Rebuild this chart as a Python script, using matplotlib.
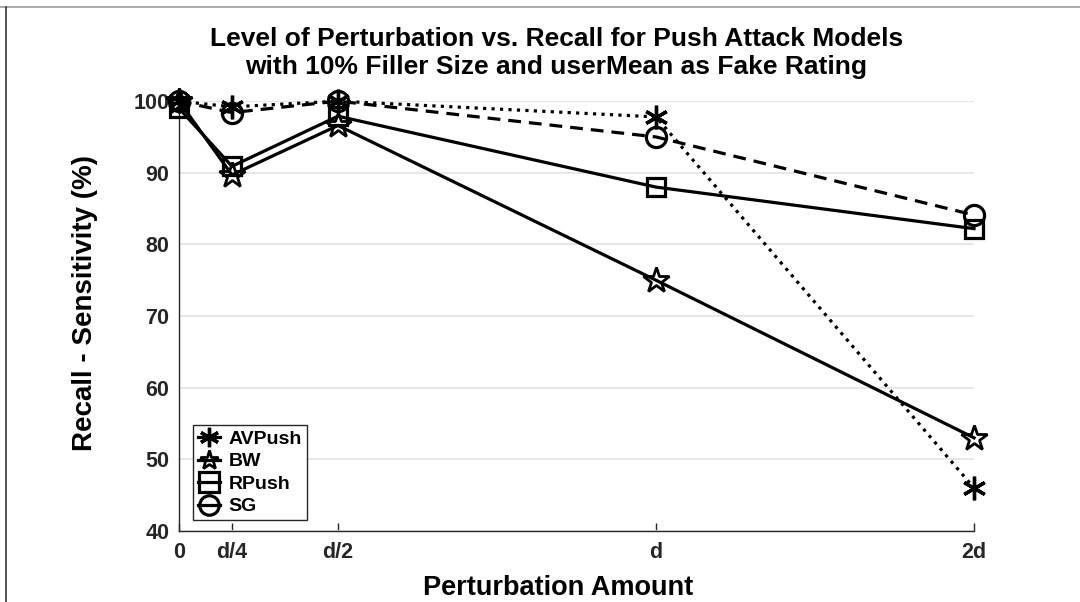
import matplotlib
matplotlib.use('Agg')
import matplotlib.pyplot as plt
from matplotlib.lines import Line2D

plt.rcParams['font.family'] = ['Liberation Sans', 'DejaVu Sans']
plt.rcParams['font.weight'] = 'bold'

# perturbation levels (plotted on their own positions) and tick labels
x_pos = [0, 1, 3, 9, 15]
x_labels = ['0', 'd/4', 'd/2', 'd', '2d']

# recall - sensitivity (%) for each push attack model
avpush = [100, 99.2, 100, 97.8, 46]
bw = [100, 89.7, 96.6, 75, 53]
rpush = [99, 90.9, 97.9, 88, 82.2]
sg = [100, 98.4, 100, 95, 84.1]

asterisk = (6, 2, 0)

fig = plt.figure(figsize=(10.8, 6.02), dpi=100)
ax = fig.add_axes([0.1657, 0.118, 0.7362, 0.714])

lw = 2.3
ax.plot(x_pos, avpush, ls=':', color='k', lw=lw, marker=asterisk, ms=17, mew=2.4,
        label='AVPush', clip_on=False, zorder=5)
ax.plot(x_pos, bw, ls='-', color='k', lw=lw, marker='*', ms=19, mew=2.0, mfc='none',
        label='BW', clip_on=False, zorder=4)
ax.plot(x_pos, rpush, ls='-', color='k', lw=lw, marker='s', ms=13, mew=2.3, mfc='none',
        label='RPush', clip_on=False, zorder=4)
ax.plot(x_pos, sg, ls=(0, (4, 2.5)), color='k', lw=lw, marker='o', ms=14.5, mew=2.3, mfc='none',
        label='SG', clip_on=False, zorder=4)

ax.set_xlim(0, 15)
ax.set_ylim(40, 100)
ax.set_xticks(x_pos)
ax.set_xticklabels(x_labels)
ax.set_yticks(range(40, 101, 10))

for s in ['top', 'right']:
    ax.spines[s].set_visible(False)
for s in ['left', 'bottom']:
    ax.spines[s].set_color('#262626')
    ax.spines[s].set_linewidth(1.0)

ax.tick_params(direction='in', length=6, width=1.0, color='#262626',
               labelcolor='#262626', labelsize=15.5, pad=8)
ax.tick_params(axis='y', length=0, pad=7)
ax.yaxis.grid(True, color='#e3e3e3', lw=1.2)
ax.set_axisbelow(True)

leg = ax.legend(loc='lower left', bbox_to_anchor=(0.018, 0.025), fontsize=14,
                handlelength=1.1, handletextpad=0.45, borderpad=0.25, labelspacing=0.25,
                fancybox=False, edgecolor='#262626', framealpha=1, borderaxespad=0)
leg.get_frame().set_linewidth(1.0)
for h in leg.legend_handles:
    h.set_linestyle('-')
    h.set_markersize(14)

fig.text(0.515, 0.912, 'Level of Perturbation vs. Recall for Push Attack Models\n'
         'with 10% Filler Size and userMean as Fake Rating',
         ha='center', va='center', fontsize=19, fontweight='bold', linespacing=1.25)
fig.text(0.517, 0.024, 'Perturbation Amount', ha='center', va='center',
         fontsize=19.5, fontweight='bold')
fig.text(0.079, 0.497, 'Recall - Sensitivity (%)', ha='center', va='center',
         rotation=90, fontsize=20, fontweight='bold')

# outer frame edges
fig.add_artist(Line2D([0, 1], [0.988, 0.988], color='#999999', lw=1.2))
fig.add_artist(Line2D([0.006, 0.006], [0, 0.988], color='#333333', lw=1.2))

plt.savefig('out.png', dpi=100)
